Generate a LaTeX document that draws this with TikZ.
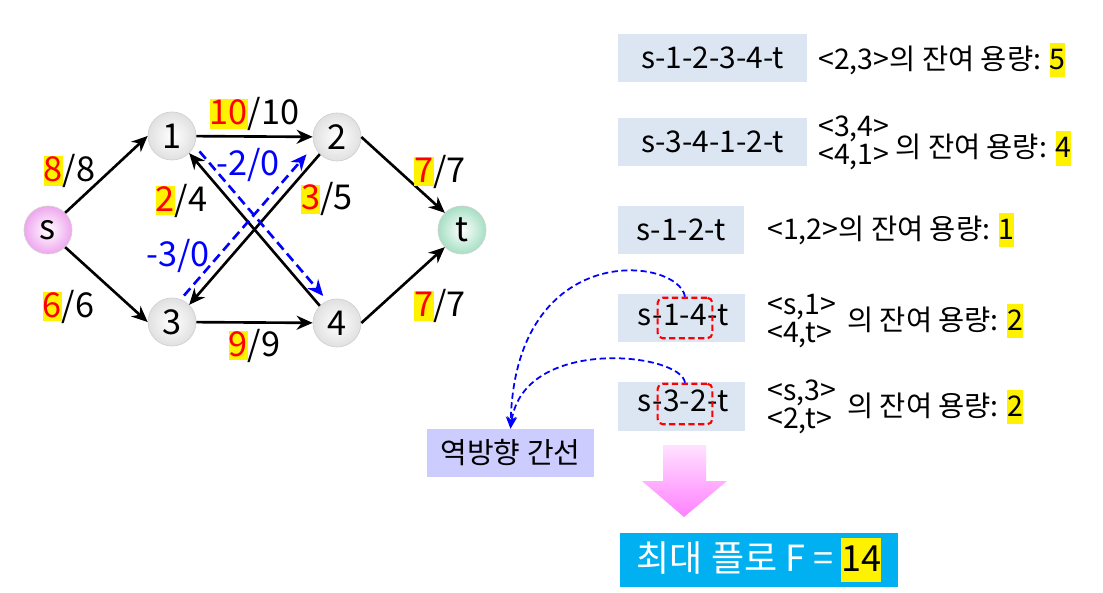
\documentclass[tikz,border=0pt]{standalone}
\usepackage{fontspec}
\setmainfont{Noto Sans CJK KR}
\usetikzlibrary{positioning,arrows.meta,fit}
\definecolor{haneul}{HTML}{DCE6F2}
\definecolor{bora}{HTML}{CCCCFF}
\definecolor{parang}{HTML}{00B0F0}
\definecolor{bunhong}{HTML}{EFA6EF}
\definecolor{cheongrok}{HTML}{A6DFC4}
\definecolor{yeonbunhong}{HTML}{FFE2FF}
\definecolor{jinbunhong}{HTML}{FF80FF}
\newcommand{\gang}[1]{{\setlength{\fboxsep}{0pt}\colorbox{yellow}{\rule[-0.28em]{0pt}{1.22em}#1}}}
\newcommand{\gangp}[1]{{\setlength{\fboxsep}{0pt}\colorbox{yellow}{\rule[-0.12em]{0pt}{0.86em}\textcolor{red}{#1}}}}
\tikzset{
  jeom/.style       = {circle, draw=black!18, thin, minimum size=9.6mm, inner sep=0pt,
                       shade, inner color=white, outer color=black!12, font=\fontsize{19.5}{22}\selectfont},
  hwasal/.style     = {-{Stealth[length=3.2mm, width=2.8mm]}, line width=1.5pt},
  yeokbang/.style   = {hwasal, blue, dash pattern=on 5.5pt off 3pt},
  pyogi/.style      = {font=\fontsize{19.5}{22}\selectfont, inner sep=1pt},
  gyeongno/.style   = {fill=haneul, minimum height=9.6mm, inner sep=0pt, font=\fontsize{17}{19}\selectfont},
  gyeonggul/.style  = {inner sep=0pt, text height=12.5pt, text depth=3.8pt, font=\fontsize{17}{19}\selectfont},
  seolmyeong/.style = {inner sep=0pt, align=left, font=\fontsize{16.2}{16}\selectfont},
  jeomseon/.style   = {draw=red, line width=1.2pt, dash pattern=on 3.5pt off 2pt, rounded corners=3pt,
                       inner xsep=3pt, inner ysep=3.2pt},
  yeongyeol/.style  = {-{Stealth[length=2.4mm, width=2mm]}, blue, line width=1pt, dash pattern=on 3.5pt off 2pt}
}
\begin{document}
\begin{tikzpicture}[x=0.2mm, y=-0.2mm]
  \path[fill=white] (0,0) rectangle (1103,593);
  % network
  \node[jeom, outer color=bunhong] (s) at (48,230) {s};
  \node[jeom] (n1) at (172,136) {1};
  \node[jeom] (n2) at (337,137) {2};
  \node[jeom] (n3) at (172,322) {3};
  \node[jeom] (n4) at (337,323) {4};
  \node[jeom, outer color=cheongrok] (t) at (462,230) {t};

  \draw[hwasal] (s.45) -- node[pyogi, pos=.4, anchor=south east, yshift=-5pt] {\gangp{8}/8} (n1.west);
  \draw[hwasal] (s.-45) -- node[pyogi, pos=.39, below left=6pt and 0pt] {\gangp{6}/6} (n3.west);
  \draw[hwasal] (n1) -- node[pyogi, above=1.5pt] {\gangp{10}/10} (n2);
  \draw[hwasal] (n3) -- node[pyogi, below=2pt] {\gangp{9}/9} (n4);
  \draw[hwasal] (n2.east) -- node[pyogi, pos=.6, anchor=south west, yshift=-5pt] {\gangp{7}/7} (t.135);
  \draw[hwasal] (n4.east) -- node[pyogi, pos=.6, below right=5pt and 0pt] {\gangp{7}/7} (t.-135);
  \draw[hwasal] (n4.135) -- node[pyogi, pos=.69, left=11pt] {\gangp{2}/4} (n1.-45);
  \draw[hwasal] (n2.-135) -- node[pyogi, pos=.3, right=10pt] {\gangp{3}/5} (n3.45);
  \draw[yeokbang, shorten <=3pt, shorten >=3pt] ([shift={(3.9pt,3.3pt)}]n1.-45)
    -- node[pyogi, blue, pos=.09, right=3pt, yshift=-2pt] {-2/0} ([shift={(3.9pt,3.3pt)}]n4.135);
  \draw[yeokbang, shorten <=2pt, shorten >=5pt] ([shift={(-4.3pt,3.7pt)}]n3.45)
    -- node[pyogi, blue, pos=.28, left=3pt] {-3/0} ([shift={(-4.3pt,3.7pt)}]n2.-135);

  % augmenting paths
  \node[gyeongno, minimum width=37.8mm] (g1) at (712.5,58) {s-1-2-3-4-t};
  \node[seolmyeong, anchor=west] (j1) at (818,60) {<2,3>의 잔여 용량: \gang{5}};

  \node[gyeongno, minimum width=37.8mm] (g2) at (712.5,142) {s-3-4-1-2-t};
  \node[seolmyeong, anchor=west] (j2) at (818,143) {<3,4>\\<4,1>};
  \node[seolmyeong, right=3pt of j2, yshift=-3pt] (k2) {의 잔여 용량: \gang{4}};

  \node[gyeongno, minimum width=25.2mm] (g3) at (681,230) {s-1-2-t};
  \node[seolmyeong, anchor=west] (j3) at (767,230) {<1,2>의 잔여 용량: \gang{1}};

  \node[gyeongno, minimum width=25.4mm] (g4) at (681.5,318) {};
  \node[gyeonggul] (g4b) at (685,318) {1-4};
  \node[gyeonggul, left=0pt of g4b] (g4a) {s-};
  \node[gyeonggul, right=0pt of g4b] (g4c) {-t};
  \node[jeomseon, fit=(g4b)] (r4) {};
  \node[seolmyeong, anchor=west] (j4) at (767,321) {<s,1>\\<4,t>};
  \node[seolmyeong, right=6pt of j4] (k4) {의 잔여 용량: \gang{2}};

  \node[gyeongno, minimum width=25.4mm] (g5) at (681.5,406.5) {};
  \node[gyeonggul] (g5b) at (685,404) {3-2};
  \node[gyeonggul, left=0pt of g5b] (g5a) {s-};
  \node[gyeonggul, right=0pt of g5b] (g5c) {-t};
  \node[jeomseon, fit=(g5b)] (r5) {};
  \node[seolmyeong, anchor=west] (j5) at (767,407) {<s,3>\\<2,t>};
  \node[seolmyeong, right=6pt of j5] (k5) {의 잔여 용량: \gang{2}};

  % reverse edges
  \node[gyeongno, fill=bora, minimum width=33.4mm, font=\fontsize{16.5}{18}\selectfont] (yb) at (510.5,453) {역방향 간선};
  \draw[yeongyeol] (r4.north) .. controls +(-7,-40) and +(5,-190) .. (yb.north);
  \draw[yeongyeol] (r5.north) .. controls +(-4,-30) and +(13,-93) .. (yb.north);

  % result
  \shade[top color=yeonbunhong, bottom color=jinbunhong] (663,445) -- (706,445) -- (706,481)
    -- (727,481) -- (684,517) -- (642,481) -- (663,481) -- cycle;
  \node[gyeongno, fill=parang, text=white, minimum width=55.6mm, minimum height=10.8mm,
        font=\fontsize{20.5}{22}\selectfont] (cd) at (759,560) {최대 플로 F = \gang{\textcolor{black}{14}}};
\end{tikzpicture}
\end{document}
